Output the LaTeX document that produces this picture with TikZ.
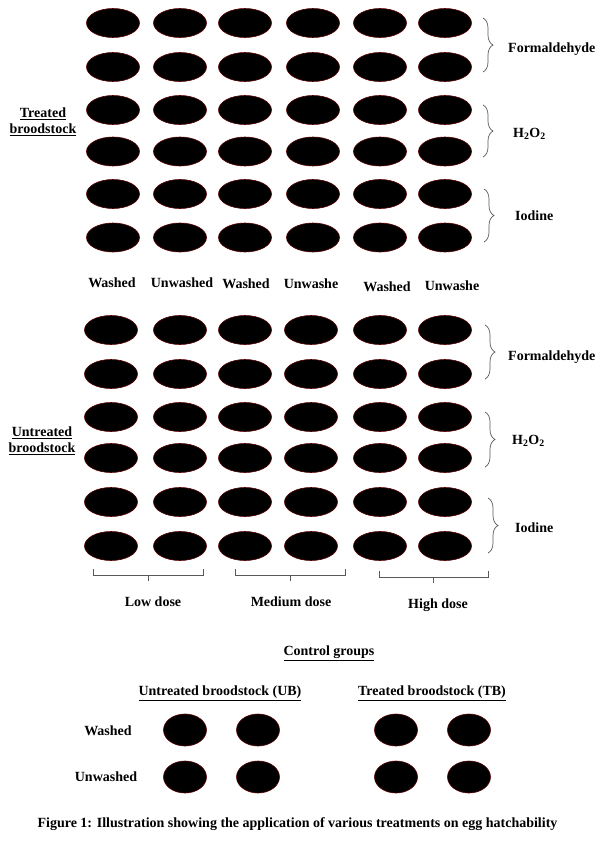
\documentclass[tikz,border=0pt]{standalone}
\usepackage{fontspec}
\setmainfont{Liberation Serif}
\usetikzlibrary{shapes.geometric,decorations.pathreplacing}
\begin{document}
\begin{tikzpicture}[x=1pt,y=-1pt,
  egg/.style={ellipse, fill=black, draw=red!35!black, line width=0.6pt, minimum width=53pt, minimum height=29pt, inner sep=0pt},
  cegg/.style={egg, minimum width=43pt, minimum height=32pt},
  lbl/.style={font=\fontsize{14}{16}\selectfont\bfseries, inner sep=0pt},
  brc/.style={draw=black!65, line width=0.7pt, decorate, decoration={brace, amplitude=10pt}},
  dosebr/.style={draw=black!65, line width=0.8pt}
]
\useasboundingbox (0,0) rectangle (600,844);

% upper grid (treated broodstock)
\foreach \r/\y in {1/23,2/67,3/110,4/151.5,5/194,6/237.5}
  \foreach \c/\x in {1/113,2/180,3/245,4/313,5/380,6/445}
    \node[egg] (t\r\c) at (\x,\y) {};

% lower grid (untreated broodstock)
\foreach \r/\y in {1/330,2/374,3/417,4/458,5/502,6/546}
  \foreach \c/\x in {1/111,2/180,3/245,4/311,5/380,6/445}
    \node[egg] (u\r\c) at (\x,\y) {};

% side labels
\node[lbl, align=center] (tlab) at (43,122) {\underline{Treated}\\\underline{broodstock}};
\node[lbl, align=center] (ulab) at (42,441) {\underline{Untreated}\\\underline{broodstock}};

% braces upper
\draw[brc] (483,18) -- (483,72);
\node[lbl, anchor=west] (tf) at (508,49) {Formaldehyde};
\draw[brc] (483,105) -- (483,157);
\node[lbl, anchor=west] (th) at (513,134) {H\textsubscript{2}O\textsubscript{2}};
\draw[brc] (484,189) -- (484,242);
\node[lbl, anchor=west] (ti) at (515,216) {Iodine};

% braces lower
\draw[brc] (485,325) -- (485,379);
\node[lbl, anchor=west] (uf) at (508,357) {Formaldehyde};
\draw[brc] (485,412) -- (485,467);
\node[lbl, anchor=west] (uh) at (512,441) {H\textsubscript{2}O\textsubscript{2}};
\draw[brc] (488,498) -- (488,553);
\node[lbl, anchor=west] (ui) at (515,528) {Iodine};

% washed / unwashed labels
\node[lbl] (w1) at (112,283) {Washed};
\node[lbl] (w2) at (182,283) {Unwashed};
\node[lbl] (w3) at (246,284) {Washed};
\node[lbl] (w4) at (311,284) {Unwashe};
\node[lbl] (w5) at (387,287) {Washed};
\node[lbl] (w6) at (452,286) {Unwashe};

% dose brackets
\draw[dosebr] (93,569) -- (93,575) -- (203,575) -- (203,569);
\draw[dosebr] (148,575) -- (148,581);
\draw[dosebr] (235,569) -- (235,575) -- (345,575) -- (345,569);
\draw[dosebr] (290,575) -- (290,581);
\draw[dosebr] (379,571) -- (379,577) -- (488,577) -- (488,571);
\draw[dosebr] (433,577) -- (433,583);
\node[lbl] (d1) at (153,602) {Low dose};
\node[lbl] (d2) at (291,602) {Medium dose};
\node[lbl] (d3) at (438,605) {High dose};

% control groups
\node[lbl] (cg) at (329,653) {\underline{Control groups}};
\node[lbl] (ub) at (220,693) {\underline{Untreated broodstock (UB)}};
\node[lbl] (tb) at (432,693) {\underline{Treated broodstock (TB)}};
\node[lbl] (cw) at (108,731) {Washed};
\node[lbl] (cu) at (106,777) {Unwashed};
\foreach \r/\y in {1/730,2/777}
  \foreach \c/\x in {1/185,2/258,3/396,4/469}
    \node[cegg] (c\r\c) at (\x,\y) {};

% caption
\node[lbl] (cap) at (297.5,824) {Figure 1: Illustration showing the application of various treatments on egg hatchability};
\end{tikzpicture}
\end{document}
